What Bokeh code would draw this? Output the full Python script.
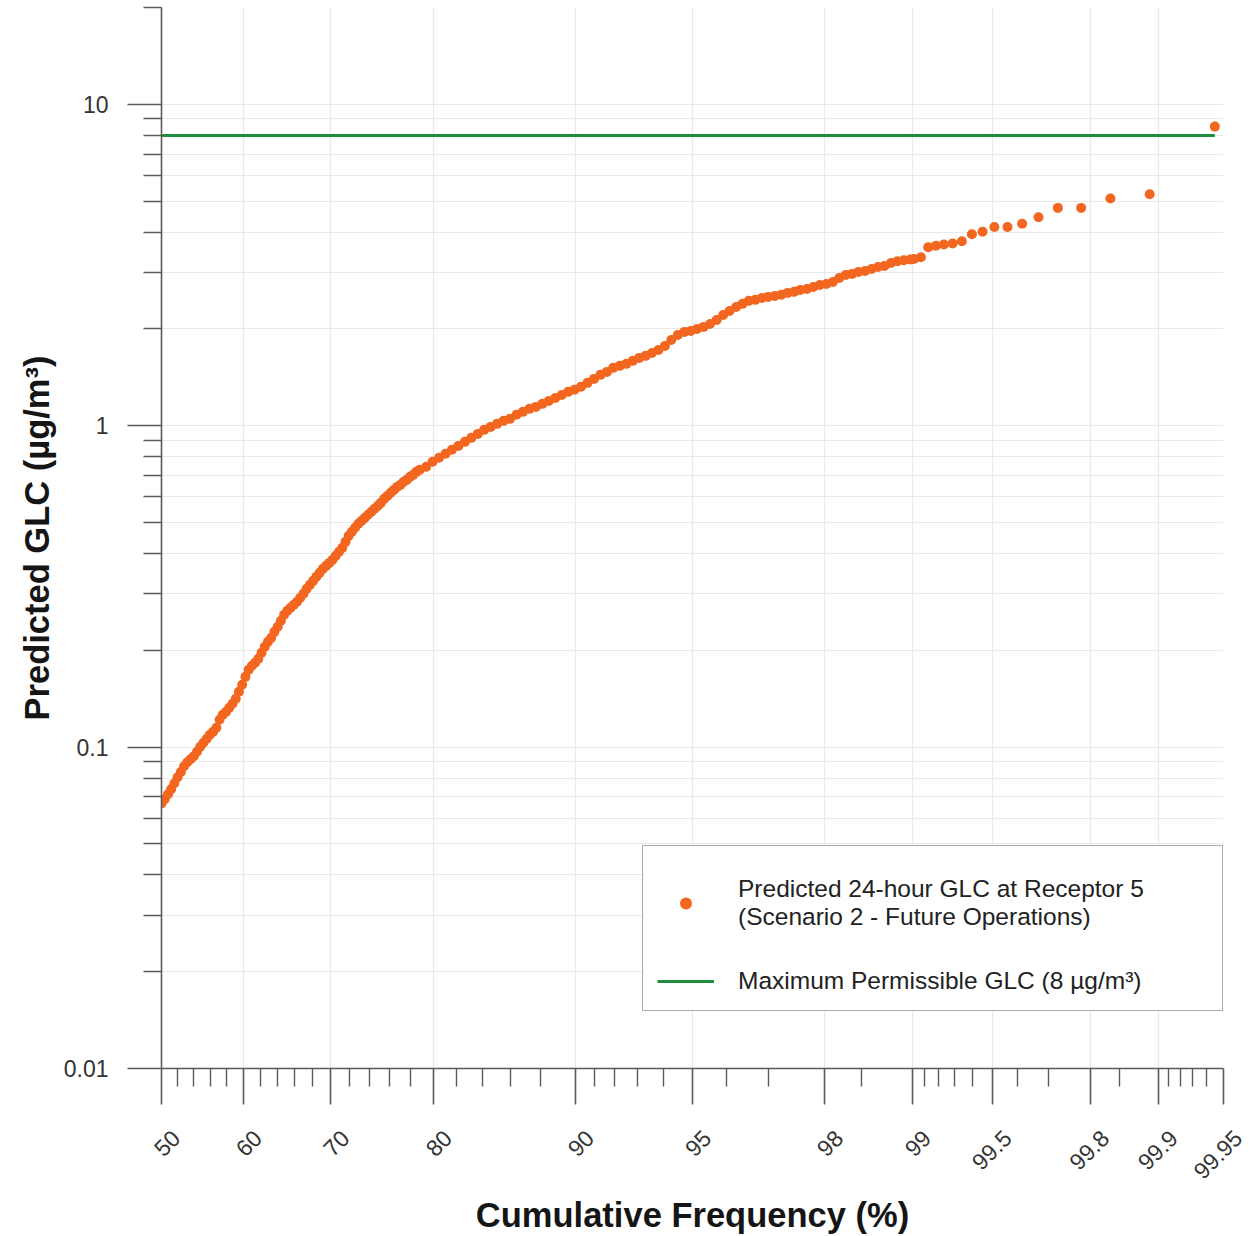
import math
from statistics import NormalDist

from bokeh.plotting import figure
from bokeh.models import (FixedTicker, Range1d, Legend, LegendItem,
                          CustomJSTickFormatter, ColumnDataSource)
from bokeh.embed import file_html
from bokeh.resources import INLINE

# ---------------- data ----------------
# cumulative frequency (%) of each plotted 24-hour result
cum_freq_pct = [
    50.00, 50.40, 50.80, 51.20, 51.60, 51.99, 52.39, 52.79, 53.19, 53.59,
    53.98, 54.38, 54.78, 55.17, 55.57, 55.96, 56.36, 56.75, 57.14, 57.53,
    57.93, 58.32, 58.71, 59.10, 59.48, 59.87, 60.26, 60.64, 61.03, 61.41,
    61.79, 62.17, 62.55, 62.93, 63.31, 63.68, 64.06, 64.43, 64.80, 65.17,
    65.54, 65.91, 66.28, 66.64, 67.00, 67.36, 67.72, 68.08, 68.44, 68.79,
    69.15, 69.50, 69.85, 70.19, 70.54, 70.88, 71.23, 71.57, 71.90, 72.24,
    72.57, 72.91, 73.24, 73.57, 73.89, 74.22, 74.54, 74.86, 75.17, 75.49,
    75.80, 76.11, 76.42, 76.73, 77.04, 77.34, 77.64, 77.94, 78.23, 78.52,
    78.81, 79.39, 79.95, 80.51, 81.06, 81.59, 82.12, 82.64, 83.15, 83.65,
    84.13, 84.61, 85.08, 85.54, 85.99, 86.43, 86.86, 87.29, 87.70, 88.10,
    88.49, 88.88, 89.25, 89.62, 89.97, 90.32, 90.66, 90.99, 91.31, 91.62,
    91.92, 92.22, 92.51, 92.79, 93.06, 93.32, 93.57, 93.82, 94.06, 94.29,
    94.52, 94.74, 94.95, 95.15, 95.35, 95.54, 95.73, 95.91, 96.08, 96.25,
    96.41, 96.56, 96.71, 96.86, 96.99, 97.13, 97.26, 97.38, 97.50, 97.61,
    97.725, 97.831, 97.932, 98.030, 98.124, 98.214, 98.300, 98.382, 98.461, 98.537,
    98.610, 98.679, 98.745, 98.809, 98.870, 98.928, 98.983,
    99.014, 99.069, 99.124, 99.179, 99.233, 99.288, 99.343, 99.398, 99.452, 99.507,
    99.562, 99.617, 99.671, 99.726, 99.781, 99.836, 99.890, 99.945,
]

# predicted 24-hour ground level concentration (ug/m3)
glc_ugm3 = [
    0.0668, 0.0688, 0.0713, 0.0740, 0.0772, 0.0806, 0.0836, 0.0872, 0.0897, 0.0917,
    0.0937, 0.0967, 0.1002, 0.1031, 0.1061, 0.1092, 0.1116, 0.1148, 0.1216, 0.1260,
    0.1288, 0.1325, 0.1364, 0.1413, 0.1486, 0.1562, 0.1654, 0.1739, 0.1790, 0.1829,
    0.1882, 0.1965, 0.2051, 0.2126, 0.2187, 0.2283, 0.2367, 0.2471, 0.2579, 0.2654,
    0.2712, 0.2771, 0.2831, 0.2913, 0.2998, 0.3107, 0.3197, 0.3290, 0.3386, 0.3484,
    0.3585, 0.3663, 0.3742, 0.3824, 0.3935, 0.4049, 0.4167, 0.4350, 0.4541, 0.4675,
    0.4810, 0.4950, 0.5057, 0.5167, 0.5280, 0.5394, 0.5512, 0.5630, 0.5752, 0.5919,
    0.6047, 0.6179, 0.6313, 0.6450, 0.6543, 0.6687, 0.6783, 0.6930, 0.7030, 0.7183,
    0.7286, 0.7444, 0.7718, 0.7943, 0.8174, 0.8411, 0.8652, 0.8904, 0.9163, 0.9429,
    0.9704, 0.9914, 1.013, 1.035, 1.050, 1.081, 1.104, 1.128, 1.144, 1.169,
    1.194, 1.220, 1.246, 1.274, 1.293, 1.321, 1.359, 1.398, 1.439, 1.470,
    1.513, 1.535, 1.557, 1.591, 1.625, 1.649, 1.684, 1.721, 1.771, 1.848,
    1.916, 1.958, 1.972, 2.000, 2.029, 2.073, 2.133, 2.211, 2.275, 2.341,
    2.393, 2.445, 2.463, 2.498, 2.516, 2.534, 2.553, 2.589, 2.608, 2.645,
    2.664, 2.702, 2.741, 2.760, 2.800, 2.882, 2.944, 2.966, 3.009, 3.030,
    3.074, 3.118, 3.141, 3.209, 3.250, 3.270, 3.290,
    3.30, 3.34, 3.59, 3.63, 3.66, 3.69, 3.75, 3.94, 4.01, 4.15,
    4.15, 4.25, 4.45, 4.76, 4.76, 5.09, 5.25, 8.52,
]

max_permissible_glc = 8.0

series_label = "Predicted 24-hour GLC at Receptor 5\n(Scenario 2 - Future Operations)"
limit_label = "Maximum Permissible GLC (8 \u00b5g/m\u00b3)"

x_major_ticks = [50, 60, 70, 80, 90, 95, 98, 99, 99.5, 99.8, 99.9, 99.95]
x_major_labels = ["50", "60", "70", "80", "90", "95", "98", "99",
                  "99.5", "99.8", "99.9", "99.95"]
x_minor_ticks = [52, 54, 56, 58, 62, 64, 66, 68, 72, 74, 76, 78,
                 82, 84, 86, 88, 91, 92, 93, 94, 96, 97, 98.5,
                 99.1, 99.2, 99.3, 99.4, 99.6, 99.7, 99.85,
                 99.91, 99.92, 99.93, 99.94]
y_major_ticks = [0.01, 0.1, 1, 10]
y_major_labels = ["0.01", "0.1", "1", "10"]
y_minor_ticks = [0.02, 0.03, 0.04, 0.05, 0.06, 0.07, 0.08, 0.09,
                 0.2, 0.3, 0.4, 0.5, 0.6, 0.7, 0.8, 0.9,
                 2, 3, 4, 5, 6, 7, 8, 9, 20]

# ---------------- probability (normal) scale for x ----------------
_nd = NormalDist()


def probit(pct):
    return _nd.inv_cdf(pct / 100.0)


ORANGE = "#f2661f"
GREEN = "#1f8f3e"
AXIS = "#5a5a5a"
GRID = "#e9e9e9"
FONT = "Liberation Sans"
NAN = float("nan")

src = ColumnDataSource(dict(z=[probit(v) for v in cum_freq_pct], glc=glc_ugm3))
limit_src = ColumnDataSource(dict(z=[probit(cum_freq_pct[0]), probit(cum_freq_pct[-1])],
                                  glc=[max_permissible_glc, max_permissible_glc]))

p = figure(width=1250, height=1236,
           x_range=Range1d(probit(x_major_ticks[0]), probit(x_major_ticks[-1])),
           y_range=Range1d(0.01, 20), y_axis_type="log",
           output_backend="svg", toolbar_location=None,
           min_border_left=161, min_border_right=27,
           min_border_top=7, min_border_bottom=168)
p.outline_line_color = None
p.background_fill_color = "white"
p.border_fill_color = "white"

# axes ------------------------------------------------------------
xt = [probit(v) for v in x_major_ticks]
p.xaxis.ticker = FixedTicker(ticks=xt, minor_ticks=[probit(v) for v in x_minor_ticks])
# rotated labels are right-anchored by Bokeh; a leading blank line slides the
# visible text so that it sits (nearly) centred under its tick, as in the reference
p.xaxis.formatter = CustomJSTickFormatter(args=dict(tk=xt, labels=x_major_labels), code="""
    let best = 0, bd = Infinity;
    for (let i = 0; i < tk.length; i++) { const d = Math.abs(tk[i] - tick); if (d < bd) { bd = d; best = i; } }
    return "\\n" + labels[best];
""")
p.yaxis.ticker = FixedTicker(ticks=y_major_ticks, minor_ticks=y_minor_ticks)
p.yaxis.formatter = CustomJSTickFormatter(args=dict(tk=y_major_ticks, labels=y_major_labels), code="""
    let best = 0, bd = Infinity;
    for (let i = 0; i < tk.length; i++) { const d = Math.abs(Math.log10(tk[i]) - Math.log10(tick)); if (d < bd) { bd = d; best = i; } }
    return labels[best];
""")

for ax in (p.xaxis[0], p.yaxis[0]):
    ax.axis_line_color = AXIS
    ax.axis_line_width = 1.6
    ax.major_tick_line_color = AXIS
    ax.major_tick_line_width = 1.6
    ax.minor_tick_line_color = AXIS
    ax.minor_tick_line_width = 1.4
    ax.major_tick_in = 0
    ax.minor_tick_in = 0
    ax.major_label_text_font = FONT
    ax.major_label_text_font_size = "23px"
    ax.major_label_text_color = "#333333"
    ax.axis_label_text_font = FONT
    ax.axis_label_text_font_size = "34.5px"
    ax.axis_label_text_font_style = "bold"
    ax.axis_label_text_color = "#151515"

p.xaxis.major_tick_out = 36
p.xaxis.minor_tick_out = 18
p.xaxis.major_label_orientation = math.pi / 4
p.xaxis.major_label_text_line_height = 1.6
p.xaxis.major_label_standoff = 15
p.xaxis.axis_label = "Cumulative Frequency (%)"
p.xaxis.axis_label_standoff = -15

p.yaxis.major_tick_out = 34
p.yaxis.minor_tick_out = 18
p.yaxis.major_label_standoff = 19
p.yaxis.axis_label = "Predicted GLC (\u00b5g/m\u00b3)"
p.yaxis.axis_label_standoff = 5

# grid ------------------------------------------------------------
p.xgrid.grid_line_color = GRID
p.xgrid.grid_line_width = 1.2
p.ygrid.grid_line_color = GRID
p.ygrid.grid_line_width = 1.2
p.ygrid.minor_grid_line_color = GRID
p.ygrid.minor_grid_line_width = 1.2

# data ------------------------------------------------------------
p.line("z", "glc", source=limit_src, line_color=GREEN, line_width=3)
p.scatter("z", "glc", source=src, size=10, fill_color=ORANGE, line_color=None)

# legend (glyph-only renderers, nothing drawn in the plot area) -----
leg_dot = p.scatter(x=[NAN], y=[NAN], size=15, fill_color=ORANGE, line_color=None)
leg_line = p.line(x=[NAN, NAN], y=[NAN, NAN], line_color=GREEN, line_width=3)
legend = Legend(items=[LegendItem(label=series_label, renderers=[leg_dot]),
                       LegendItem(label=limit_label, renderers=[leg_line])],
                location=(481, 57))
legend.title = " "
legend.title_text_font_size = "11px"
legend.title_standoff = 3
legend.label_text_font = FONT
legend.label_text_font_size = "24.5px"
legend.label_text_color = "#222222"
legend.glyph_width = 57
legend.glyph_height = 30
legend.label_standoff = 24
legend.padding = 14
legend.spacing = 35
legend.margin = 0
legend.label_width = 470
legend.border_line_color = "#555555"
legend.border_line_width = 1.5
legend.background_fill_color = "white"
legend.background_fill_alpha = 1.0
p.add_layout(legend)

open("out.html", "w").write(file_html(p, INLINE))
